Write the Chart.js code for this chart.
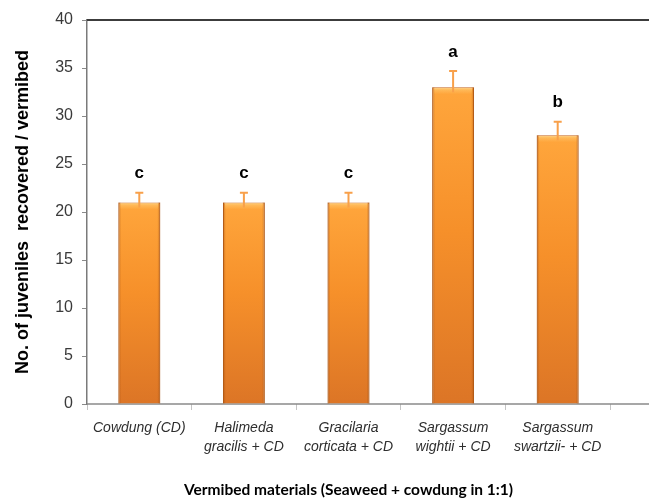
<!DOCTYPE html>
<html>
<head>
<meta charset="utf-8">
<title>Juveniles recovered per vermibed</title>
<script src="https://cdn.jsdelivr.net/npm/chart.js@4"></script>
<style>
  html, body { margin: 0; padding: 0; background: #ffffff; overflow: hidden; }
  #wrap { width: 649px; height: 502px; position: relative; }
</style>
</head>
<body>
<div id="wrap"><canvas id="chart" width="649" height="502"></canvas></div>
<script>
// Vermibed treatments (species names in italics on the axis)
const categories = [
  ['Cowdung (CD)'],
  ['Halimeda', 'gracilis + CD'],
  ['Gracilaria', 'corticata + CD'],
  ['Sargassum', 'wightii + CD'],
  ['Sargassum', 'swartzii- + CD']
];
// Mean number of juveniles recovered per vermibed
const juveniles = [21, 21, 21, 33, 28];
// Upper error (standard error) for each mean
const stdErrors = [1, 1, 1, 1.7, 1.4];
// Significance groups shown above each bar
const groupLetters = ['c', 'c', 'c', 'a', 'b'];
// Y-axis range and step
const yMin = 0, yMax = 40, yStep = 5;

const ARIAL = '"Liberation Sans", Arial, sans-serif';

// Per-bar vertical gradient: bright orange at the top, deeper at the base
function barFill(ctx) {
  const chart = ctx.chart;
  const area = chart.chartArea;
  if (!area || ctx.type !== 'data') return '#F39022';
  const y = chart.scales.y;
  const top = y.getPixelForValue(juveniles[ctx.dataIndex]);
  const bottom = y.getPixelForValue(0);
  const g = chart.ctx.createLinearGradient(0, top, 0, bottom);
  g.addColorStop(0, '#FFA63C');
  g.addColorStop(0.45, '#F6902A');
  g.addColorStop(1, '#DC7526');
  return g;
}

// Shading on bar edges and a light bevel along the top
const bevelPlugin = {
  id: 'bevel',
  afterDatasetsDraw(chart) {
    const { ctx } = chart;
    const meta = chart.getDatasetMeta(0);
    ctx.save();
    meta.data.forEach((bar) => {
      const w = bar.width, left = bar.x - w / 2, top = bar.y, h = bar.base - bar.y;
      const hg = ctx.createLinearGradient(left, 0, left + w, 0);
      hg.addColorStop(0, 'rgba(150,70,10,0.45)');
      hg.addColorStop(0.07, 'rgba(150,70,10,0.0)');
      hg.addColorStop(0.93, 'rgba(150,70,10,0.0)');
      hg.addColorStop(1, 'rgba(150,70,10,0.45)');
      ctx.fillStyle = hg;
      ctx.fillRect(left, top, w, h);
      const vg = ctx.createLinearGradient(0, top, 0, top + 7);
      vg.addColorStop(0, 'rgba(255,225,150,0.9)');
      vg.addColorStop(0.4, 'rgba(255,200,110,0.55)');
      vg.addColorStop(1, 'rgba(255,200,110,0.0)');
      ctx.fillStyle = vg;
      ctx.fillRect(left + 2, top + 1, w - 4, 7);
    });
    ctx.restore();
  }
};

// Upper error whiskers and group letters
const errorPlugin = {
  id: 'errorBars',
  afterDatasetsDraw(chart) {
    const { ctx } = chart;
    const y = chart.scales.y;
    const meta = chart.getDatasetMeta(0);
    ctx.save();
    meta.data.forEach((bar, i) => {
      const yTop = y.getPixelForValue(juveniles[i] + stdErrors[i]);
      const yBar = y.getPixelForValue(juveniles[i]);
      ctx.strokeStyle = '#F8A04A';
      ctx.lineWidth = 2;
      ctx.beginPath();
      ctx.moveTo(bar.x, yBar + 5);
      ctx.lineTo(bar.x, yTop);
      ctx.moveTo(bar.x - 4, yTop);
      ctx.lineTo(bar.x + 4, yTop);
      ctx.stroke();
      ctx.fillStyle = '#000000';
      ctx.font = 'bold 17px ' + ARIAL;
      ctx.textAlign = 'center';
      ctx.textBaseline = 'middle';
      ctx.fillText(groupLetters[i], bar.x, yTop - 19);
    });
    ctx.restore();
  }
};

// Frame lines along the top and bottom of the plot, running to the canvas edge
const framePlugin = {
  id: 'frame',
  beforeDatasetsDraw(chart) {
    const { ctx, chartArea: a } = chart;
    ctx.save();
    ctx.strokeStyle = '#3c3c3c';
    ctx.lineWidth = 2;
    ctx.beginPath();
    ctx.moveTo(a.left, a.top);
    ctx.lineTo(chart.width, a.top);
    ctx.stroke();
    ctx.strokeStyle = '#8a8a8a';
    ctx.lineWidth = 1.5;
    ctx.beginPath();
    ctx.moveTo(a.left, a.bottom);
    ctx.lineTo(chart.width, a.bottom);
    ctx.stroke();
    ctx.restore();
  }
};

new Chart(document.getElementById('chart'), {
  type: 'bar',
  data: {
    labels: categories,
    datasets: [{
      data: juveniles,
      backgroundColor: barFill,
      borderColor: '#C4661D',
      borderWidth: 1,
      categoryPercentage: 1.0,
      barPercentage: 0.4
    }]
  },
  options: {
    responsive: false,
    animation: false,
    devicePixelRatio: 1,
    layout: { padding: { top: 20, right: 39, left: 0, bottom: 0 } },
    plugins: {
      legend: { display: false },
      tooltip: { enabled: false }
    },
    scales: {
      x: {
        afterFit(scale) { scale.height = 98; },
        grid: {
          offset: true,
          drawOnChartArea: false,
          drawTicks: true,
          tickLength: 6,
          color: '#c4c4c4'
        },
        border: { display: false },
        ticks: {
          color: '#2e2e2e',
          padding: 9,
          maxRotation: 0,
          autoSkip: false,
          font: { family: ARIAL, size: 14, style: 'italic', lineHeight: 1.35 }
        },
        title: {
          display: true,
          text: 'Vermibed materials (Seaweed + cowdung in 1:1)',
          color: '#000000',
          padding: { top: 0, bottom: 3 },
          font: { family: 'Lato, "Open Sans", sans-serif', size: 15.5, weight: 'bold' }
        }
      },
      y: {
        min: yMin,
        max: yMax,
        afterFit(scale) { scale.width = 87; },
        grid: {
          drawOnChartArea: false,
          drawTicks: true,
          tickLength: 5,
          color: '#8a8a8a'
        },
        border: { display: true, color: '#7a7a7a', width: 1.5 },
        ticks: {
          stepSize: yStep,
          color: '#3a3a3a',
          padding: 9,
          font: { family: ARIAL, size: 16 }
        },
        title: {
          display: true,
          text: 'No. of juveniles  recovered / vermibed',
          color: '#000000',
          padding: { top: 12, bottom: 0 },
          font: { family: ARIAL, size: 18, weight: 'bold' }
        }
      }
    }
  },
  plugins: [framePlugin, bevelPlugin, errorPlugin]
});
</script>
</body>
</html>
